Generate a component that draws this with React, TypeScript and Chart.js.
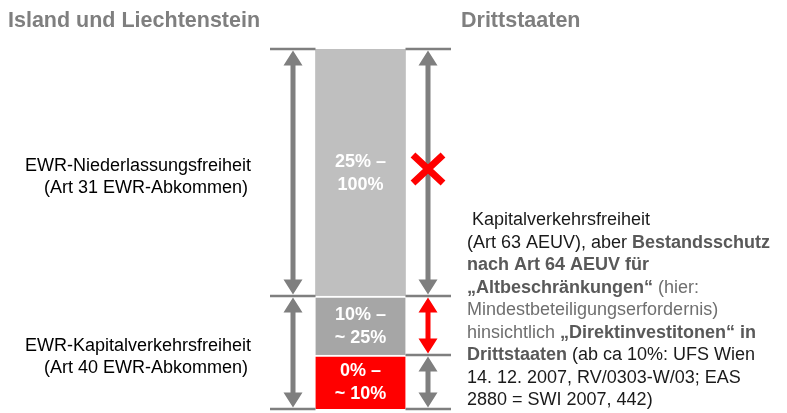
import React, { useEffect, useRef } from "react";
import { Chart, registerables } from "chart.js";

Chart.register(...registerables);

// ---- data ----
const categories = ["Beteiligungsquote"];
const bandNames = ["0% – ~10%", "10% – ~25%", "25% – 100%"];
// visual heights of the three bands (diagram units, bottom to top)
const bandHeights = [54, 59, 247];
const bandLabelLines = [
  ["0% –", "~ 10%"],
  ["10% –", "~ 25%"],
  ["25% –", "100%"],
];
const headerLeft = "Island und Liechtenstein";
const headerRight = "Drittstaaten";
const leftLabels = [
  ["EWR-Kapitalverkehrsfreiheit", "(Art 40 EWR-Abkommen)"],
  ["EWR-Niederlassungsfreiheit", "(Art 31 EWR-Abkommen)"],
];
// right text block: [text, style] with n = normal dark, g = gray, b = bold gray
const rightText: [string, string][][] = [
  [[" Kapitalverkehrsfreiheit", "n"]],
  [["(Art 63 AEUV), aber ", "n"], ["Bestandsschutz", "b"]],
  [["nach Art 64 AEUV für", "b"]],
  [["„Altbeschränkungen“", "b"], [" (hier:", "g"]],
  [["Mindestbeteiligungserfordernis)", "g"]],
  [["hinsichtlich ", "g"], ["„Direktinvestitonen“ in", "b"]],
  [["Drittstaaten", "b"], [" (ab ca 10%: UFS Wien", "n"]],
  [["14. 12. 2007, RV/0303-W/03; EAS", "n"]],
  [["2880 = SWI 2007, 442)", "n"]],
];

// ---- styles ----
const bandColors = ["#FF0000", "#A6A6A6", "#BFBFBF"];
const GRAY = "#7F7F7F";
const RED = "#FF0000";
const FONT = "'Liberation Sans', Arial, sans-serif";

function arrow(ctx: CanvasRenderingContext2D, x: number, y1: number, y2: number, color: string) {
  const hw = 9.5, hl = 15, sw = 2.5;
  ctx.fillStyle = color;
  ctx.beginPath();
  ctx.moveTo(x, y1);
  ctx.lineTo(x + hw, y1 + hl);
  ctx.lineTo(x + sw, y1 + hl);
  ctx.lineTo(x + sw, y2 - hl);
  ctx.lineTo(x + hw, y2 - hl);
  ctx.lineTo(x, y2);
  ctx.lineTo(x - hw, y2 - hl);
  ctx.lineTo(x - sw, y2 - hl);
  ctx.lineTo(x - sw, y1 + hl);
  ctx.lineTo(x - hw, y1 + hl);
  ctx.closePath();
  ctx.fill();
}

function boundaryPixels(chart: any) {
  const y = chart.scales.y;
  const bounds = [0];
  bandHeights.forEach((h) => bounds.push(bounds[bounds.length - 1] + h));
  return bounds.map((v) => y.getPixelForValue(v));
}

const diagramPlugin = {
  id: "diagram",
  afterDatasetsDraw(chart: any) {
    const ctx: CanvasRenderingContext2D = chart.ctx;
    const y = chart.scales.y;
    const area = chart.chartArea;
    const bar = chart.getDatasetMeta(0).data[0];
    const barLeft = bar.x - bar.width / 2;
    const barRight = bar.x + bar.width / 2;
    const py = boundaryPixels(chart);

    ctx.save();
    // horizontal lines
    ctx.strokeStyle = GRAY;
    ctx.lineWidth = 2.5;
    [0, 2, 3].forEach((i) => {
      ctx.beginPath();
      ctx.moveTo(area.left, py[i]);
      ctx.lineTo(barLeft, py[i]);
      ctx.stroke();
    });
    [0, 1, 2, 3].forEach((i) => {
      ctx.beginPath();
      ctx.moveTo(barRight, py[i]);
      ctx.lineTo(area.right, py[i]);
      ctx.stroke();
    });

    const lx = area.left + 23;
    const rx = area.right - 23;
    const g = 1.5;
    arrow(ctx, lx, py[3] + g, py[2] - g, GRAY);
    arrow(ctx, lx, py[2] + g, py[0] - g, GRAY);
    arrow(ctx, rx, py[3] + g, py[2] - g, GRAY);
    arrow(ctx, rx, py[2] + g, py[1] - g, RED);
    arrow(ctx, rx, py[1] + g, py[0] - g, GRAY);

    // red cross
    const cy = y.getPixelForValue(240);
    ctx.strokeStyle = RED;
    ctx.lineWidth = 7;
    ctx.beginPath();
    ctx.moveTo(rx - 15, cy - 14);
    ctx.lineTo(rx + 15, cy + 14);
    ctx.moveTo(rx + 15, cy - 14);
    ctx.lineTo(rx - 15, cy + 14);
    ctx.stroke();

    // bar labels
    ctx.fillStyle = "#FFFFFF";
    ctx.font = `bold 18px ${FONT}`;
    ctx.textAlign = "center";
    ctx.textBaseline = "middle";
    bandLabelLines.forEach((lines, i) => {
      const c = (py[i] + py[i + 1]) / 2 + 1;
      ctx.fillText(lines[0], bar.x, c - 11.5);
      ctx.fillText(lines[1], bar.x, c + 11.5);
    });
    ctx.restore();
  },
  afterDraw(chart: any) {
    const ctx: CanvasRenderingContext2D = chart.ctx;
    const py = boundaryPixels(chart);
    ctx.save();
    ctx.textBaseline = "alphabetic";
    // headers
    ctx.fillStyle = GRAY;
    ctx.font = `bold 21.5px ${FONT}`;
    ctx.textAlign = "left";
    ctx.fillText(headerLeft, 8, 27);
    ctx.fillText(headerRight, 461, 27);

    // left labels
    ctx.fillStyle = "#000000";
    ctx.font = `18px ${FONT}`;
    ctx.textAlign = "right";
    const centers = [(py[0] + py[2]) / 2, (py[2] + py[3]) / 2];
    leftLabels.forEach((lines, i) => {
      const c = centers[i] - 2;
      ctx.fillText(lines[0], 251, c);
      ctx.fillText(lines[1], 248, c + 22);
    });

    // right text
    ctx.textAlign = "left";
    const colors: Record<string, string> = { n: "#1A1A1A", g: "#6F6F6F", b: "#595959" };
    const x0 = 467;
    rightText.forEach((line, i) => {
      const by = 225 + i * 22.5;
      let x = x0;
      line.forEach(([t, s]) => {
        ctx.font = s === "b" ? `bold 18px ${FONT}` : `18px ${FONT}`;
        ctx.fillStyle = colors[s];
        ctx.fillText(t, x, by);
        x += ctx.measureText(t).width;
      });
    });
    ctx.restore();
  },
};

export default function App() {
  const ref = useRef<HTMLCanvasElement | null>(null);
  useEffect(() => {
    if (!ref.current) return;
    const chart = new Chart(ref.current, {
      type: "bar",
      data: {
        labels: categories,
        datasets: bandHeights.map((h, i) => ({
          label: bandNames[i],
          data: [h],
          backgroundColor: bandColors[i],
          borderColor: "#FFFFFF",
          borderWidth: i < 2 ? { top: 2, left: 0, right: 0, bottom: 0 } : 0,
          borderSkipped: false,
          barThickness: 90,
        })),
      },
      options: {
        responsive: false,
        animation: false,
        devicePixelRatio: 1,
        layout: { padding: { left: 270, right: 336, top: 49, bottom: 4 } },
        plugins: { legend: { display: false }, tooltip: { enabled: false }, title: { display: false } },
        scales: {
          x: { display: false, stacked: true },
          y: { display: false, stacked: true, min: 0, max: 360 },
        },
      },
      plugins: [diagramPlugin],
    });
    return () => chart.destroy();
  }, []);
  return (
    <div style={{ position: "fixed", left: 0, top: 0, width: 787, height: 413, background: "#fff" }}>
      <canvas ref={ref} width={787} height={413} style={{ display: "block", width: 787, height: 413 }} />
    </div>
  );
}
